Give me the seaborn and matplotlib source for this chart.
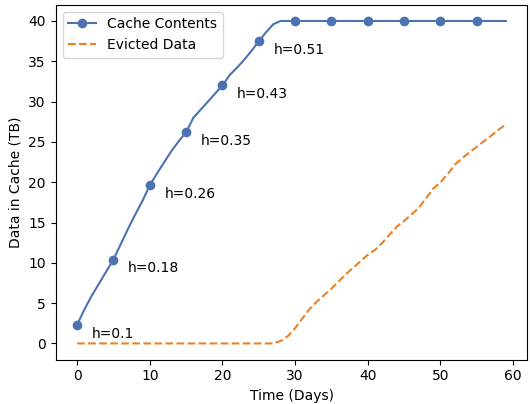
import matplotlib
matplotlib.use("Agg")
import matplotlib.pyplot as plt
import seaborn as sns
import pandas as pd
import numpy as np

days = list(range(60))
cache = [2.3, 4.2, 5.9, 7.4, 8.9, 10.4, 12.3, 14.2, 16.0, 17.7,
         19.6, 21.1, 22.5, 23.9, 25.1, 26.2, 28.0, 29.0, 30.0, 31.0,
         32.0, 33.3, 34.2, 35.2, 36.3, 37.5, 38.6, 39.6, 40.0, 40.0] + [40.0] * 30
evicted = [0.0] * 28 + [0.3, 0.9, 1.9, 3.1, 4.3, 5.2, 6.0, 6.8, 7.7, 8.6,
                        9.4, 10.2, 11.0, 11.6, 12.5, 13.5, 14.5, 15.2, 16.0, 16.8,
                        18.0, 19.2, 20.0, 21.0, 22.2, 23.0, 23.7, 24.4, 25.1, 25.8,
                        26.5, 27.2]
evicted = evicted[:60]
ann_days = [0, 5, 10, 15, 20, 25]
ann_labels = ["h=0.1", "h=0.18", "h=0.26", "h=0.35", "h=0.43", "h=0.51"]

df = pd.DataFrame({"day": days, "cache": cache, "evicted": evicted})
blue = "#4C72B0"
orange = "#E8822A"

fig, ax = plt.subplots(figsize=(5.3, 4.04), dpi=100)
sns.lineplot(data=df, x="day", y="cache", ax=ax, color=blue, marker="o",
             markevery=5, markersize=7, markeredgewidth=0, label="Cache Contents")
sns.lineplot(data=df, x="day", y="evicted", ax=ax, color=orange, linestyle="--",
             label="Evicted Data")

for d, lab in zip(ann_days, ann_labels):
    ax.text(d + 2, cache[d] - 1.1, lab, va="center", ha="left", fontsize=10)

ax.set_xlabel("Time (Days)")
ax.set_ylabel("Data in Cache (TB)")
ax.set_xticks([0, 10, 20, 30, 40, 50, 60])
ax.set_yticks([0, 5, 10, 15, 20, 25, 30, 35, 40])
ax.legend(loc="upper left")
fig.subplots_adjust(left=0.105, right=0.995, top=0.988, bottom=0.11)
fig.savefig("out.png", dpi=100)
